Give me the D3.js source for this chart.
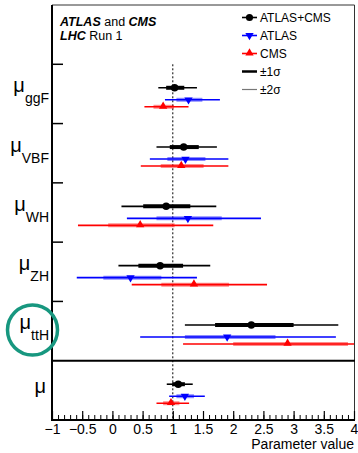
<!DOCTYPE html>
<html>
<head>
<meta charset="utf-8">
<script src="https://cdn.jsdelivr.net/npm/d3@7"></script>
<style>
  html, body { margin: 0; padding: 0; background: #fff; }
  svg { display: block; font-family: "Liberation Sans", Arial, Helvetica, sans-serif; }
</style>
</head>
<body>
<div id="chart"></div>
<script>
// -------------------------------------------------------------------------
// Data (signal strengths)

const categories = ['ggF', 'VBF', 'WH', 'ZH', 'ttH', 'all'];
const seriesNames = ['ATLAS+CMS', 'ATLAS', 'CMS'];

const combCenter = [1.03, 1.18, 0.89, 0.79, 2.30, 1.09];
const comb1Lo = [0.89, 0.95, 0.51, 0.43, 1.70, 0.99];
const comb1Hi = [1.19, 1.43, 1.29, 1.17, 3.00, 1.20];
const comb2Lo = [0.76, 0.73, 0.15, 0.10, 1.20, 0.90];
const comb2Hi = [1.40, 1.73, 1.72, 1.62, 3.74, 1.33];

const atlasCenter = [1.26, 1.21, 1.25, 0.30, 1.90, 1.20];
const atlas1Lo = [1.06, 0.91, 0.73, -0.15, 1.20, 1.06];
const atlas1Hi = [1.49, 1.54, 1.81, 0.81, 2.70, 1.35];
const atlas2Lo = [0.87, 0.62, 0.24, -0.59, 0.46, 0.94];
const atlas2Hi = [1.78, 1.92, 2.46, 1.40, 3.70, 1.53];

const cmsCenter = [0.84, 1.14, 0.46, 1.35, 2.90, 0.97];
const cms1Lo = [0.68, 0.80, -0.07, 0.81, 2.00, 0.84];
const cms1Hi = [1.02, 1.51, 1.03, 1.93, 3.90, 1.11];
const cms2Lo = [0.53, 0.47, -0.57, 0.32, 1.17, 0.73];
const cms2Hi = [1.26, 1.92, 1.67, 2.56, 4.30, 1.27];

const xTicks = [-1, -0.5, 0, 0.5, 1, 1.5, 2, 2.5, 3, 3.5, 4];
const smVal = 1;

// -------------------------------------------------------------------------
// Layout

const W = 358, H = 453;
const pLeft = 52, pRight = 354, pTop = 5, pBottom = 420;

const colors = {'ATLAS+CMS': '#000000', 'ATLAS': '#0000ff', 'CMS': '#ff0000'};
const sigOpacity = {'ATLAS+CMS': 1, 'ATLAS': 0.45, 'CMS': 0.45};
const rowOffset = {'ATLAS+CMS': 23.5, 'ATLAS': 35.5, 'CMS': 42.5};

const series = [
  {name: 'ATLAS+CMS', c: combCenter, lo1: comb1Lo, hi1: comb1Hi, lo2: comb2Lo, hi2: comb2Hi},
  {name: 'ATLAS', c: atlasCenter, lo1: atlas1Lo, hi1: atlas1Hi, lo2: atlas2Lo, hi2: atlas2Hi},
  {name: 'CMS', c: cmsCenter, lo1: cms1Lo, hi1: cms1Hi, lo2: cms2Lo, hi2: cms2Hi},
];

const x = d3.scaleLinear().domain([-1, 4]).range([pLeft, pRight]);
const y = d3.scaleBand().domain(['legend'].concat(categories)).range([pTop, pBottom]).padding(0);

const svg = d3.select('#chart')
  .append('svg')
  .attr('width', W)
  .attr('height', H);

svg.append('defs').append('clipPath')
  .attr('id', 'plotclip')
  .append('rect')
  .attr('x', pLeft).attr('y', pTop)
  .attr('width', pRight - pLeft).attr('height', pBottom - pTop);

// frame (top + right thin)
svg.append('path')
  .attr('d', `M${pLeft},${pTop}H${pRight + 0.5}V${pBottom}`)
  .attr('fill', 'none')
  .attr('stroke', '#333')
  .attr('stroke-width', 1);

// SM reference line
svg.append('line')
  .attr('x1', x(smVal)).attr('x2', x(smVal))
  .attr('y1', y('ggF')).attr('y2', pBottom)
  .attr('stroke', '#000')
  .attr('stroke-width', 1)
  .attr('stroke-dasharray', '2,2');

// separator between per-process and global mu
svg.append('line')
  .attr('x1', pLeft).attr('x2', pRight + 1)
  .attr('y1', y('all')).attr('y2', y('all'))
  .attr('stroke', '#000')
  .attr('stroke-width', 2);

// left tick marks at bin boundaries
svg.selectAll('.ltick')
  .data(categories.slice(0, 5))
  .enter()
  .append('line')
  .attr('class', 'ltick')
  .attr('x1', pLeft).attr('x2', pLeft + 11)
  .attr('y1', (d) => y(d)).attr('y2', (d) => y(d))
  .attr('stroke', '#000')
  .attr('stroke-width', 1.5);

// -------------------------------------------------------------------------
// Error bars and markers

const plot = svg.append('g').attr('clip-path', 'url(#plotclip)');

const triDown = d3.symbol().type(d3.symbolTriangle).size(30);

series.forEach((s) => {
  const col = colors[s.name];
  const g = plot.append('g').attr('class', 'series');
  const rows = categories.map((cat, i) => ({cat, i, yy: y(cat) + rowOffset[s.name]}));

  g.selectAll('.sig1')
    .data(rows)
    .enter()
    .append('line')
    .attr('x1', (d) => x(s.lo1[d.i])).attr('x2', (d) => x(s.hi1[d.i]))
    .attr('y1', (d) => d.yy).attr('y2', (d) => d.yy)
    .attr('stroke', col)
    .attr('stroke-opacity', sigOpacity[s.name])
    .attr('stroke-width', 4);

  g.selectAll('.sig2')
    .data(rows)
    .enter()
    .append('line')
    .attr('x1', (d) => x(s.lo2[d.i])).attr('x2', (d) => x(s.hi2[d.i]))
    .attr('y1', (d) => d.yy).attr('y2', (d) => d.yy)
    .attr('stroke', col)
    .attr('stroke-width', 1.6);

  const marks = g.selectAll('.mk')
    .data(rows)
    .enter()
    .append('path')
    .attr('fill', col);
  if (s.name === 'ATLAS+CMS') {
    marks.attr('d', d3.symbol().type(d3.symbolCircle).size(44))
      .attr('transform', (d) => `translate(${x(s.c[d.i])},${d.yy})`);
  } else if (s.name === 'ATLAS') {
    marks.attr('d', triDown)
      .attr('transform', (d) => `translate(${x(s.c[d.i])},${d.yy}) rotate(180)`);
  } else {
    marks.attr('d', triDown)
      .attr('transform', (d) => `translate(${x(s.c[d.i])},${d.yy - 0.5})`);
  }
});

// -------------------------------------------------------------------------
// Axes

svg.append('line')
  .attr('x1', pLeft).attr('x2', pLeft)
  .attr('y1', pTop).attr('y2', pBottom + 1)
  .attr('stroke', '#000')
  .attr('stroke-width', 2);

const minor = d3.range(-10, 41).map((d) => d / 10);
svg.append('g')
  .attr('transform', `translate(0,${pBottom})`)
  .call(d3.axisBottom(x).tickValues(minor).tickSize(-5).tickFormat(''))
  .call((g) => g.select('.domain').remove())
  .selectAll('line').attr('stroke-width', 1);

const xAxis = svg.append('g')
  .attr('transform', `translate(0,${pBottom})`)
  .call(d3.axisBottom(x)
    .tickValues(xTicks)
    .tickSize(-9)
    .tickPadding(4)
    .tickFormat((d) => String(d).replace('-', '\u2212')));
xAxis.select('.domain').remove();
xAxis.selectAll('line').attr('stroke-width', 1.2);
xAxis.selectAll('text')
  .attr('font-size', 14)
  .attr('font-family', '"Liberation Sans", Arial, sans-serif')
  .attr('fill', '#000');

svg.append('line')
  .attr('x1', pLeft - 1).attr('x2', pRight + 1)
  .attr('y1', pBottom).attr('y2', pBottom)
  .attr('stroke', '#000')
  .attr('stroke-width', 2);

svg.append('text')
  .attr('x', pRight)
  .attr('y', 449)
  .attr('text-anchor', 'end')
  .attr('font-size', 14)
  .text('Parameter value');

// y labels: mu with subscript
categories.forEach((cat) => {
  const t = svg.append('text')
    .attr('text-anchor', 'end')
    .attr('x', cat === 'all' ? 46 : 49)
    .attr('y', y(cat) + (cat === 'all' ? 32 : 28));
  t.append('tspan').attr('font-size', 20).text('\u03bc');
  if (cat !== 'all') {
    t.append('tspan').attr('font-size', 14).attr('dy', 11).text(cat);
  }
});

// -------------------------------------------------------------------------
// Header text and legend

const hdr = svg.append('text').attr('x', 60).attr('y', 26).attr('font-size', 12.5);
hdr.append('tspan').attr('font-weight', 'bold').attr('font-style', 'italic').text('ATLAS');
hdr.append('tspan').text(' and ');
hdr.append('tspan').attr('font-weight', 'bold').attr('font-style', 'italic').text('CMS');

const hdr2 = svg.append('text').attr('x', 60).attr('y', 39.5).attr('font-size', 12.5);
hdr2.append('tspan').attr('font-weight', 'bold').attr('font-style', 'italic').text('LHC');
hdr2.append('tspan').text(' Run 1');

const legendRows = [
  {label: 'ATLAS+CMS', col: '#000', w: 1.6, mk: 'circle'},
  {label: 'ATLAS', col: '#0000ff', w: 1.6, mk: 'down'},
  {label: 'CMS', col: '#ff0000', w: 1.6, mk: 'up'},
  {label: '\u00b11\u03c3', col: '#000', w: 2.5, mk: null},
  {label: '\u00b12\u03c3', col: '#777', w: 1.2, mk: null},
];
const legY = d3.scalePoint().domain(d3.range(legendRows.length)).range([17.5, 89.5]);

const leg = svg.append('g').attr('class', 'legend');
legendRows.forEach((r, i) => {
  const yy = legY(i);
  leg.append('line')
    .attr('x1', 242).attr('x2', 257)
    .attr('y1', yy).attr('y2', yy)
    .attr('stroke', r.col)
    .attr('stroke-width', r.w);
  if (r.mk === 'circle') {
    leg.append('path').attr('d', d3.symbol().type(d3.symbolCircle).size(40))
      .attr('transform', `translate(249.5,${yy})`).attr('fill', r.col);
  } else if (r.mk === 'down') {
    leg.append('path').attr('d', triDown)
      .attr('transform', `translate(249.5,${yy}) rotate(180)`).attr('fill', r.col);
  } else if (r.mk === 'up') {
    leg.append('path').attr('d', triDown)
      .attr('transform', `translate(249.5,${yy - 0.5})`).attr('fill', r.col);
  }
  leg.append('text')
    .attr('x', 260)
    .attr('y', yy + 4.5)
    .attr('font-size', 12)
    .text(r.label);
});

// highlight circle round mu_ttH
svg.append('circle')
  .attr('cx', 32.5)
  .attr('cy', 330)
  .attr('r', 25)
  .attr('fill', 'none')
  .attr('stroke', '#17977f')
  .attr('stroke-width', 3.5);
</script>
</body>
</html>
